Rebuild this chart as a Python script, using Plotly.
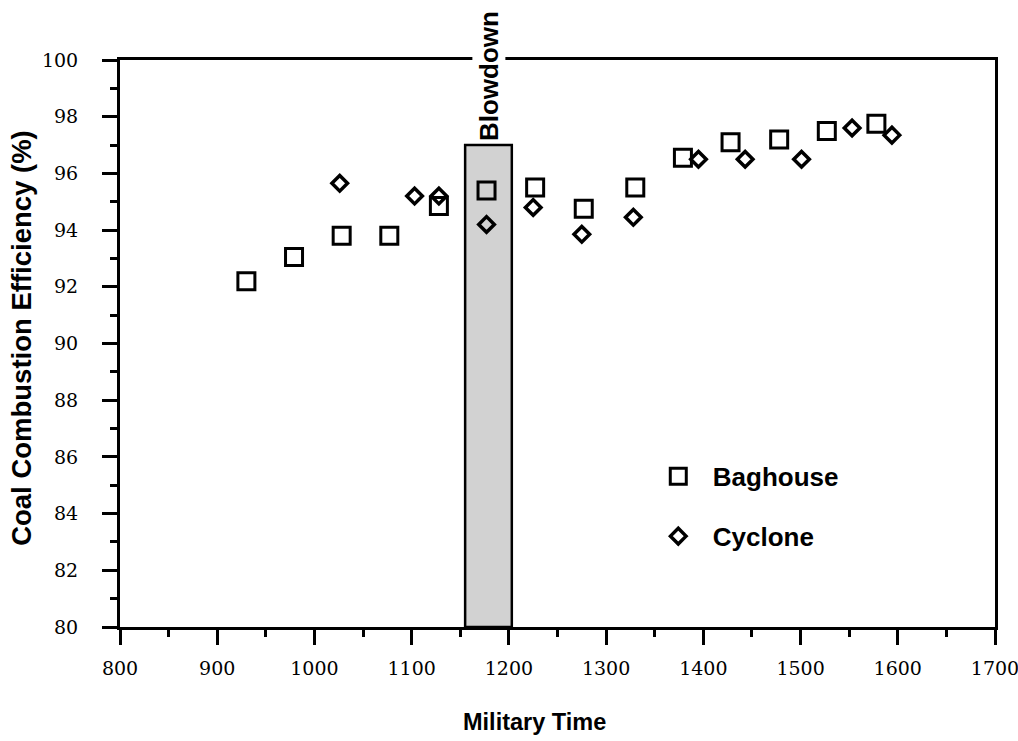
import plotly.graph_objects as go

# Military time of each sample and measured coal combustion efficiency (%)
baghouse_time = [930, 979, 1028, 1077, 1128, 1177, 1227, 1277, 1330, 1379, 1428, 1478, 1527, 1578]
baghouse_eff = [92.2, 93.05, 93.8, 93.8, 94.85, 95.4, 95.5, 94.75, 95.5, 96.55, 97.1, 97.2, 97.5, 97.75]

cyclone_time = [1026, 1103, 1128, 1177, 1225, 1275, 1328, 1395, 1443, 1501, 1553, 1594]
cyclone_eff = [95.65, 95.2, 95.2, 94.2, 94.8, 93.85, 94.45, 96.5, 96.5, 96.5, 97.6, 97.35]

# Blowdown period (start, end) and its upper extent on the efficiency axis
blowdown_span = [1155, 1203]
blowdown_top = 97.0

x_ticks = [800, 900, 1000, 1100, 1200, 1300, 1400, 1500, 1600, 1700]
y_ticks = [80, 82, 84, 86, 88, 90, 92, 94, 96, 98, 100]

sans = "Liberation Sans"
serif = "DejaVu Serif"

fig = go.Figure()

fig.add_trace(go.Scatter(
    x=baghouse_time, y=baghouse_eff, mode="markers", name="<b>Baghouse</b>",
    legendgroup="b",
    marker=dict(symbol="square-open", size=17, color="black", line=dict(width=3, color="black")),
))
fig.add_trace(go.Scatter(
    x=cyclone_time, y=cyclone_eff, mode="markers", name="<b>Cyclone</b>",
    legendgroup="c",
    marker=dict(symbol="diamond-open", size=12, color="black", line=dict(width=3.5, color="black")),
))

# Shaded blowdown band
fig.add_shape(
    type="rect", xref="x", yref="y",
    x0=blowdown_span[0], x1=blowdown_span[1], y0=80, y1=blowdown_top,
    fillcolor="#d2d2d2", line=dict(color="black", width=2.5), layer="below",
)

fig.add_annotation(
    x=(blowdown_span[0] + blowdown_span[1]) / 2, y=99.45, xref="x", yref="y",
    xanchor="center", yanchor="middle",
    text="<b>Blowdown</b>", textangle=-90, showarrow=False,
    font=dict(family=sans, size=26, color="black"),
    bgcolor="white", borderpad=1,
)

# Axis titles
fig.add_annotation(
    x=-0.112, y=0.51, xref="paper", yref="paper",
    xanchor="center", yanchor="middle",
    text="<b>Coal Combustion Efficiency (%)</b>", textangle=-90, showarrow=False,
    font=dict(family=sans, size=27.5, color="black"),
)
fig.add_annotation(
    x=0.474, y=-0.1675, xref="paper", yref="paper",
    xanchor="center", yanchor="middle",
    text="<b>Military Time</b>", showarrow=False,
    font=dict(family=sans, size=23.5, color="black"),
)

axis_common = dict(
    showgrid=False, zeroline=False, automargin=False,
    showline=True, linecolor="black", linewidth=3, mirror=True,
    ticks="outside", ticklen=15, tickwidth=3, tickcolor="black",
    tickfont=dict(family=serif, size=19, color="black"),
    ticklabeloverflow="allow",
)

fig.update_xaxes(
    range=[800, 1700], tickvals=x_ticks, ticktext=[str(v) for v in x_ticks],
    minor=dict(dtick=50, ticks="outside", ticklen=7, tickwidth=3, tickcolor="black", showgrid=False),
    ticklabelstandoff=7,
    **axis_common,
)
fig.update_yaxes(
    range=[80, 100], tickvals=y_ticks, ticktext=[str(v) for v in y_ticks],
    minor=dict(dtick=1, ticks="outside", ticklen=7, tickwidth=3, tickcolor="black", showgrid=False),
    ticklabelstandoff=20,
    **axis_common,
)

fig.update_layout(
    width=1018, height=741,
    margin=dict(l=120, r=23, t=60, b=114),
    paper_bgcolor="white", plot_bgcolor="white",
    showlegend=True,
    legend=dict(
        x=0.5986, y=0.307, xanchor="left", yanchor="top",
        bgcolor="rgba(0,0,0,0)", borderwidth=0,
        font=dict(family=sans, size=26, color="black"),
        tracegroupgap=23, itemwidth=59,
    ),
)

fig.write_html("out.html")
